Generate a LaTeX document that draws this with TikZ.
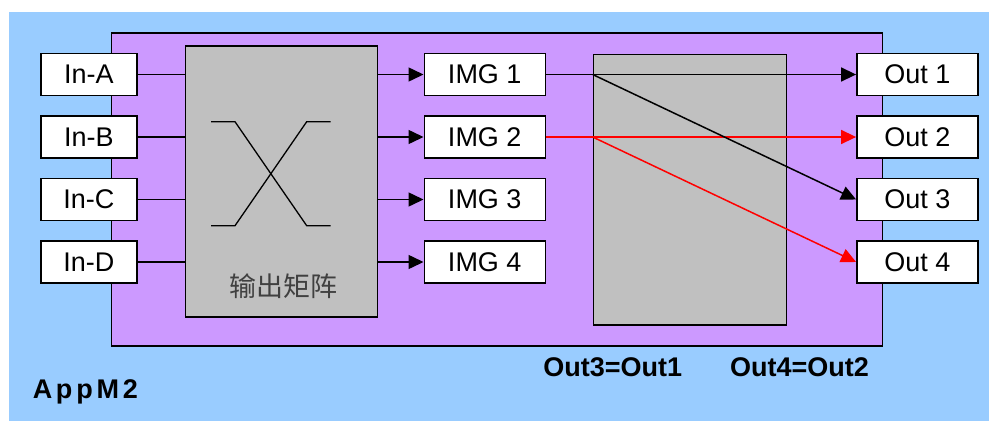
\documentclass[tikz,border=0pt]{standalone}
\usepackage{fontspec}
\setmainfont{Liberation Sans}
\newfontfamily\cjk{Noto Sans CJK SC}
\newfontfamily\spaced[LetterSpace=14]{Liberation Sans}
\usetikzlibrary{arrows.meta}
\definecolor{bgblue}{HTML}{99CCFF}
\definecolor{purp}{HTML}{CC99FF}
\definecolor{grayb}{HTML}{C0C0C0}
\begin{document}
\begin{tikzpicture}[x=1pt,y=-1pt, line width=1.5pt,
  lbl/.style={draw, fill=white, minimum height=42pt, inner sep=0pt, font=\fontsize{27}{30}\selectfont},
  inbox/.style={lbl, minimum width=96pt},
  imgbox/.style={lbl, minimum width=121pt},
  arr/.style={-{Triangle[length=15pt,width=14pt]}},
  panel/.style={draw, anchor=north west, inner sep=0pt},
  eqlbl/.style={font=\bfseries\fontsize{27}{30}\selectfont, anchor=base, inner sep=0pt},
]
\useasboundingbox (0,0) rectangle (989,421);
\fill[bgblue] (9,12) rectangle (989,421);
\node (purple) [panel, fill=purp, minimum width=771pt, minimum height=313pt] at (110.7,32.3) {};
\node (mtx) [panel, fill=grayb, minimum width=192pt, minimum height=271pt] at (184.7,45) {};
\node (sel) [panel, fill=grayb, minimum width=193pt, minimum height=270.5pt] at (592.7,53.5) {};
% cross symbol
\draw[line width=1.3pt] (211,121.7) -- (235,121.7) -- (306.7,225.7) -- (330.7,225.7);
\draw[line width=1.3pt] (330.7,121.7) -- (306.7,121.7) -- (235,225.7) -- (211,225.7);
\node (mtxlabel) [text=black!75, font=\cjk\fontsize{27}{30}\selectfont] at (283,286) {输出矩阵};
% input boxes
\node[inbox] (inA) at (88.85,74.5) {In-A};
\node[inbox] (inB) at (88.85,137) {In-B};
\node[inbox] (inC) at (88.85,199.5) {In-C};
\node[inbox] (inD) at (88.85,262) {In-D};
% image boxes
\node[imgbox] (img1) at (484.75,74.5) {IMG 1};
\node[imgbox] (img2) at (484.75,137) {IMG 2};
\node[imgbox] (img3) at (484.75,199.5) {IMG 3};
\node[imgbox] (img4) at (484.75,262) {IMG 4};
% output boxes
\node[imgbox] (out1) at (917.35,74.5) {Out 1};
\node[imgbox] (out2) at (917.35,137) {Out 2};
\node[imgbox] (out3) at (917.35,199.5) {Out 3};
\node[imgbox] (out4) at (917.35,262) {Out 4};
% inputs to matrix
\foreach \n in {inA,inB,inC,inD}
  \draw (\n.east) -- (\n.east -| mtx.west);
% matrix to images
\foreach \n in {img1,img2,img3,img4}
  \draw[arr] (\n.west -| mtx.east) -- (\n.west);
% routing
\coordinate (s1) at (sel.west |- img1.east);
\coordinate (s2) at (sel.west |- img2.east);
\draw[arr, red] (img2.east) -- (out2.west);
\draw[arr, red] (s2) -- (out4.west);
\draw[arr] (img1.east) -- (out1.west);
\draw[arr] (s1) -- (out3.west);
% labels
\node (eq1) [eqlbl] at (612.7,376) {Out3=Out1};
\node (eq2) [eqlbl] at (799.5,376) {Out4=Out2};
\node (appname) [font=\spaced\bfseries\fontsize{27}{30}\selectfont, anchor=base west, inner sep=0pt] at (32,398) {AppM2};
\end{tikzpicture}
\end{document}
